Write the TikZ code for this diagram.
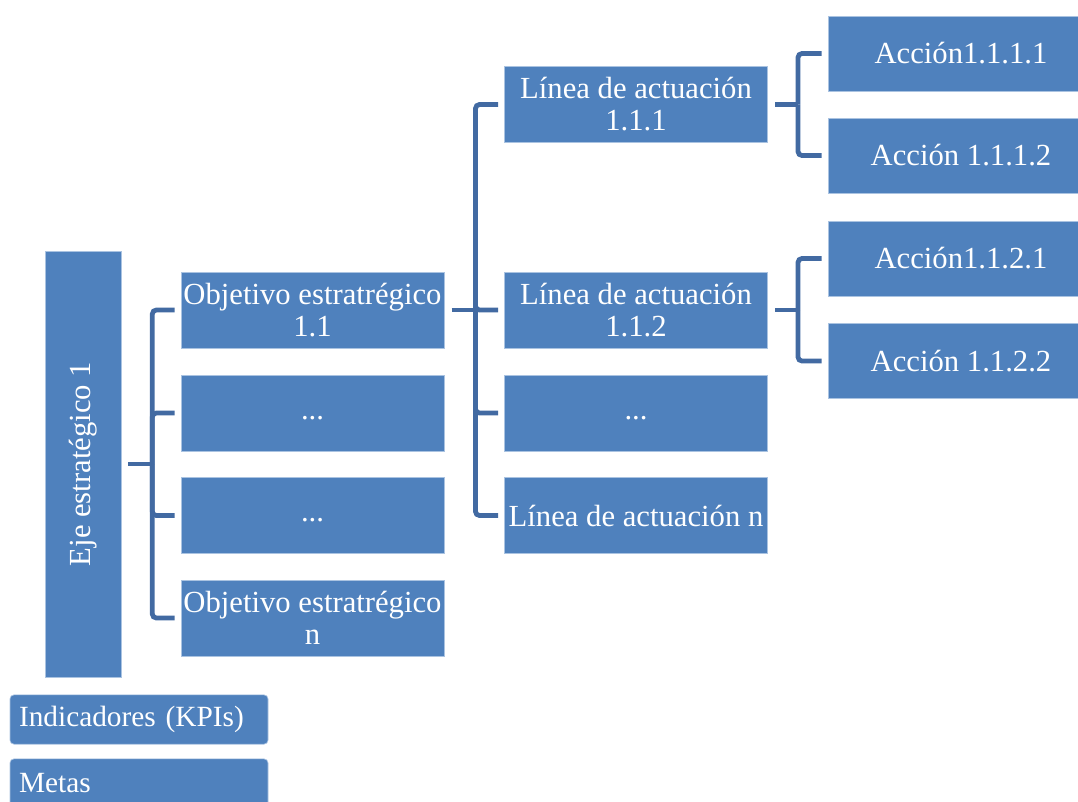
\documentclass[tikz,border=0pt]{standalone}
\usepackage{fontspec}
\setmainfont{Liberation Serif}
\usetikzlibrary{calc}
\definecolor{boxfill}{RGB}{79,129,189}
\definecolor{boxline}{RGB}{170,195,225}
\definecolor{connc}{RGB}{66,106,162}
\begin{document}
\begin{tikzpicture}[x=0.75pt,y=-0.75pt,
  every node/.style={font=\fontsize{23pt}{24pt}\selectfont},
  box/.style={draw=boxline, line width=0.5pt, fill=boxfill, text=white, inner sep=0pt,
    align=center, minimum width=197.5pt, minimum height=57pt},
  acc/.style={box, minimum width=199.5pt, minimum height=56.5pt},
  eje/.style={draw=boxline, line width=0.5pt, fill=boxfill, text=white, inner sep=0pt,
    minimum width=57pt, minimum height=319.5pt},
  tag/.style={draw=boxline, line width=0.5pt, fill=boxfill, text=white, rounded corners=3pt,
    minimum width=193.5pt, minimum height=37pt, inner sep=0pt, text width=180pt, align=left,
    font=\fontsize{22pt}{24pt}\selectfont},
  conn/.style={draw=connc, line width=3.6pt, rounded corners=3pt}]
\clip (0,0) rectangle (1078,801);
\useasboundingbox (0,0) rectangle (1078,801);
% Eje
\node[eje] (eje) at (83,464) {};
\node[text=white, rotate=90] (ejet) at (eje.center) {Eje estratégico 1};
% Objetivos
\node[box] (o1) at (312.5,310) {Objetivo estratrégico\\1.1};
\node[box] (o2) at (312.5,413) {\strut...};
\node[box] (o3) at (312.5,515.5) {\strut...};
\node[box] (o4) at (312.5,618) {Objetivo estratrégico\\n};
% Lineas
\node[box] (l1) at (636,104.5) {Línea de actuación\\1.1.1};
\node[box] (l2) at (636,310) {Línea de actuación\\1.1.2};
\node[box] (l3) at (636,413) {\strut...};
\node[box] (l4) at (636,515.5) {Línea de actuación n};
% Acciones
\node[acc] (a1) at (961,53.5) {Acción1.1.1.1};
\node[acc] (a2) at (961,155.5) {Acción 1.1.1.2};
\node[acc] (a3) at (961,258.5) {Acción1.1.2.1};
\node[acc] (a4) at (961,361) {Acción 1.1.2.2};
% Tags
\node[tag] (kpi) at (139,719.5) {Indicadores (KPIs)};
\node[tag] (metas) at (139,783.5) {Metas};
% Connectors eje -> objetivos
\coordinate (j1) at ($(eje.east)+(31,0)$);
\draw[conn] ($(eje.east)+(7,0)$) -- (j1);
\foreach \c in {o1,o2,o3,o4} \draw[conn] (j1) |- ($(\c.west)+(-6,0)$);
% Connectors o1 -> lineas
\coordinate (j2) at ($(o1.east)+(31,0)$);
\draw[conn] ($(o1.east)+(7,0)$) -- (j2);
\foreach \c in {l1,l2,l3,l4} \draw[conn] (j2) |- ($(\c.west)+(-6,0)$);
% Connectors l1 -> acciones
\coordinate (j3) at ($(l1.east)+(30,0)$);
\draw[conn] ($(l1.east)+(7,0)$) -- (j3);
\foreach \c in {a1,a2} \draw[conn] (j3) |- ($(\c.west)+(-6,0)$);
% Connectors l2 -> acciones
\coordinate (j4) at ($(l2.east)+(30,0)$);
\draw[conn] ($(l2.east)+(7,0)$) -- (j4);
\foreach \c in {a3,a4} \draw[conn] (j4) |- ($(\c.west)+(-6,0)$);
\end{tikzpicture}
\end{document}
